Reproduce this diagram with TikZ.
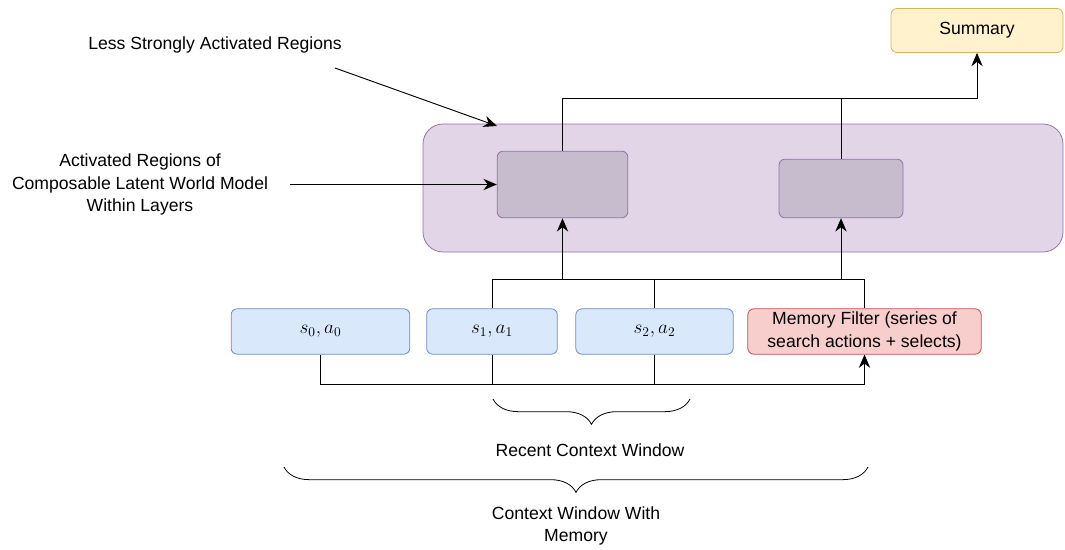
\documentclass[tikz,border=0pt]{standalone}
\usepackage[no-math]{fontspec}
\setmainfont{Liberation Sans}
\usepackage{tikz}
\usetikzlibrary{arrows.meta,decorations.pathreplacing}

\definecolor{stateFill}{HTML}{DAE8FC}
\definecolor{stateLine}{HTML}{6C8EBF}
\definecolor{memFill}{HTML}{F8CECC}
\definecolor{memLine}{HTML}{B85450}
\definecolor{sumFill}{HTML}{FFF2CC}
\definecolor{sumLine}{HTML}{D6B656}
\definecolor{layerFill}{HTML}{E1D5E7}
\definecolor{layerLine}{HTML}{9673A6}
\definecolor{regionFill}{RGB}{199,188,205}

\begin{document}
\begin{tikzpicture}[x=0.75pt,y=-0.75pt,font=\fontsize{13.2}{17}\selectfont]
            \useasboundingbox (0,0) rectangle (1065,550);

            \begin{scope}[every node/.style={rectangle,rounded corners=4.5pt,draw,line width=0.6pt,align=center}]
                \node[fill=layerFill,draw=layerLine,rounded corners=15pt,minimum width=480pt,minimum height=96pt] (layers) at (743,188) {};
                \node[fill=regionFill,draw=layerLine,minimum width=98pt,minimum height=50pt] (reg1) at (562.5,184.5) {};
                \node[fill=regionFill,draw=layerLine,minimum width=93pt,minimum height=44pt] (reg2) at (841,188.5) {};
                \node[fill=sumFill,draw=sumLine,minimum width=129pt,minimum height=33pt] (sum) at (977,30.5) {Summary};
                \node[fill=stateFill,draw=stateLine,minimum width=134pt,minimum height=34pt] (s0) at (320.5,331.5) {\Large$s_0, a_0$};
                \node[fill=stateFill,draw=stateLine,minimum width=98pt,minimum height=34pt] (s1) at (492,331.5) {\Large$s_1, a_1$};
                \node[fill=stateFill,draw=stateLine,minimum width=118pt,minimum height=34pt] (s2) at (654.5,331.5) {\Large$s_2, a_2$};
                \node[fill=memFill,draw=memLine,minimum width=175pt,minimum height=34pt,inner sep=1pt] (mem) at (864.5,331.5) {Memory Filter (series of\\search actions + selects)};
            \end{scope}

            \begin{scope}[every node/.style={align=center}]
                \node (less) at (215,45) {Less Strongly Activated Regions};
                \node (act) at (140,184.5) {Activated Regions of\\Composable Latent World Model\\Within Layers};
                \node (recent) at (590,450) {Recent Context Window};
                \node (window) at (576,526) {Context Window With\\Memory};
            \end{scope}

            \coordinate (lessStart) at (335,68);
            \coordinate (lessTip) at (497,126);
            \coordinate (actStart) at (290,184.5);
            \coordinate (topBus) at (562.5,98);
            \coordinate (midBus) at (864.5,279);
            \coordinate (lowBus) at (864.5,384);
            \coordinate (recentL) at (493,399);
            \coordinate (recentR) at (690,399);
            \coordinate (windowL) at (284,467);
            \coordinate (windowR) at (868,467);

            \begin{scope}[>={Stealth[length=10pt,width=8.5pt]},
                          every edge/.style={draw=black,line width=0.7pt}]
                \path [->] (lessStart) edge (lessTip);
                \path [->] (actStart) edge (reg1.west);
                \draw [->,line width=0.7pt] (reg1.north) -- (topBus) -| (sum.south);
                \path [-] (reg2.north) edge (reg2.north |- topBus);
                \draw [line width=0.7pt] (s1.north) |- (midBus) -- (mem.north);
                \path [-] (s2.north) edge (s2.north |- midBus);
                \path [->] (reg1.south |- midBus) edge (reg1.south);
                \path [->] (reg2.south |- midBus) edge (reg2.south);
                \draw [->,line width=0.7pt] (s0.south) |- (lowBus) -- (mem.south);
                \path [-] (s1.south) edge (s1.south |- lowBus);
                \path [-] (s2.south) edge (s2.south |- lowBus);
            \end{scope}

            \begin{scope}[decoration={brace,mirror,amplitude=19pt},line width=0.6pt]
                \draw [decorate] (recentL) -- (recentR);
                \draw [decorate] (windowL) -- (windowR);
            \end{scope}
            \end{tikzpicture}
\end{document}
